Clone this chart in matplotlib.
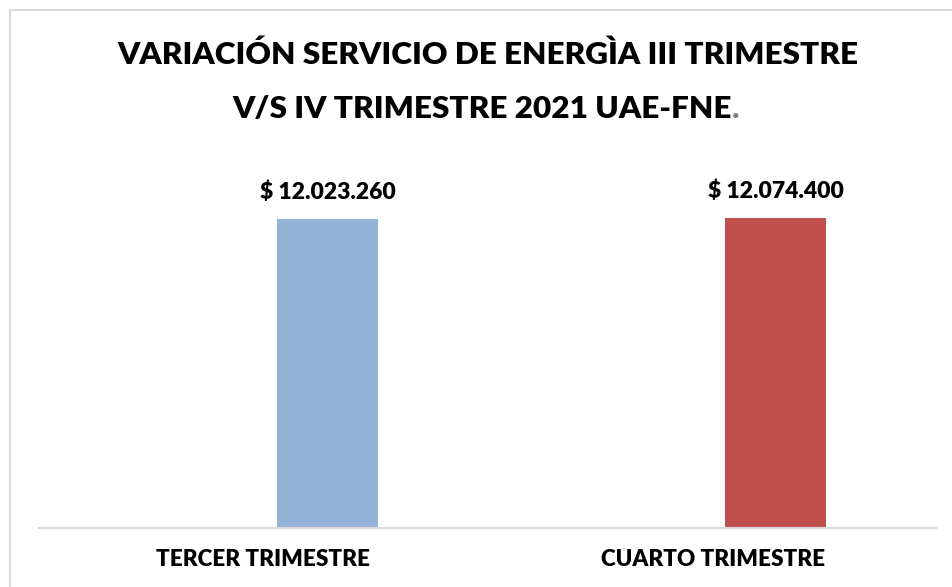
import matplotlib
matplotlib.use("Agg")
import matplotlib.pyplot as plt
from matplotlib.lines import Line2D

plt.rcParams['font.family'] = ['Lato', 'DejaVu Sans']

categories = ["TERCER TRIMESTRE", "CUARTO TRIMESTRE"]
values = [12023260, 12074400]
value_labels = ["$ 12.023.260", "$ 12.074.400"]
colors = ["#95B3D7", "#C0504D"]
title_line1 = "VARIACIÓN SERVICIO DE ENERGÌA III TRIMESTRE"
title_line2 = "V/S IV TRIMESTRE 2021 UAE-FNE"
title_dot = "."

W, H = 953, 587
fig = plt.figure(figsize=(W / 100, H / 100), dpi=100)
fig.patch.set_facecolor("white")

WEIGHT = "heavy"

def fx(px):
    return px / W

def fy(py):
    return 1 - py / H

# axes
ax_left, ax_right, ax_bottom, ax_top = 39, 936, 527.5, 140
ax = fig.add_axes([fx(ax_left), fy(ax_bottom), fx(ax_right - ax_left), (ax_bottom - ax_top) / H])
ax.set_facecolor("none")
bar_px = 308.5
ymax = values[0] * (ax_bottom - ax_top) / bar_px
ax.set_ylim(0, ymax)
ax.set_xlim(-0.5, 1.5)

offset = 0.143
bw = 0.225
pos = list(range(len(categories)))
bars = ax.bar([p + offset for p in pos], values, width=bw, color=colors, zorder=2)

for spine in ["top", "right", "left"]:
    ax.spines[spine].set_visible(False)
ax.spines["bottom"].set_color("#D9D9D9")
ax.spines["bottom"].set_linewidth(1.5)
ax.set_yticks([])
ax.set_xticks(pos)
ax.set_xticklabels([])
ax.tick_params(axis="x", length=0)

fig.canvas.draw()
renderer = fig.canvas.get_renderer()

def fit(t, target):
    for _ in range(3):
        w = t.get_window_extent(renderer).width
        t.set_fontsize(t.get_fontsize() * target / w)

# category labels
cat_centers = [263, 713]
cat_widths = [211, 224]
cat_texts = []
for c, cx in zip(categories, cat_centers):
    t = fig.text(fx(cx), fy(559), c, ha="center", va="center", fontsize=13,
                 fontweight=WEIGHT, color="black")
    cat_texts.append(t)
fit(cat_texts[0], cat_widths[0])
for t in cat_texts[1:]:
    t.set_fontsize(cat_texts[0].get_fontsize())

# value labels
val_texts = []
for b, lab in zip(bars, value_labels):
    t = ax.annotate(lab, xy=(b.get_x() + b.get_width() / 2, b.get_height()),
                    xytext=(0, 14.4), textcoords="offset points",
                    ha="center", va="baseline", fontsize=14, fontweight=WEIGHT,
                    color="black")
    val_texts.append(t)
fit(val_texts[0], 136)
for t in val_texts[1:]:
    t.set_fontsize(val_texts[0].get_fontsize())

# title
t1 = fig.text(fx(487.5), fy(55), title_line1, ha="center", va="center",
              fontsize=20, fontweight=WEIGHT, color="black")
fit(t1, 741)
fs = t1.get_fontsize()
t2 = fig.text(0, fy(109), title_line2, ha="left", va="center",
              fontsize=fs, fontweight=WEIGHT, color="black")
t3 = fig.text(0, fy(109), title_dot, ha="left", va="center",
              fontsize=fs, fontweight=WEIGHT, color="#808080")
w2 = t2.get_window_extent(renderer).width
w3 = t3.get_window_extent(renderer).width
left = 486 - (w2 + w3) / 2
t2.set_x(fx(left))
t3.set_x(fx(left + w2))

# chart border
fig.add_artist(Line2D([fx(10), fx(10)], [fy(10), 0], color="#D9D9D9", lw=1.5))
fig.add_artist(Line2D([fx(10), 1], [fy(10), fy(10)], color="#D9D9D9", lw=1.5))

fig.savefig("out.png", dpi=100, facecolor="white")
